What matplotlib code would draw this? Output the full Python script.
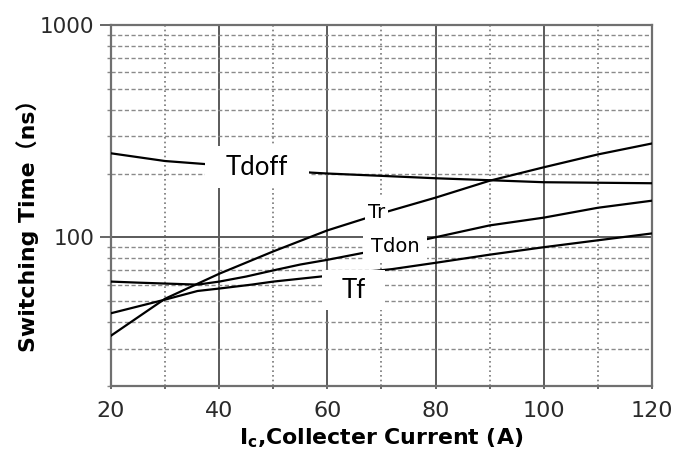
"""
Switching time versus collector current for the IGBT (log scale).
"""

import matplotlib
matplotlib.use('Agg')
import matplotlib.pyplot as plt
from matplotlib.ticker import FixedLocator, NullFormatter, FixedFormatter

# Collector current (A) and switching times (ns) per curve
tdoff_ic = [20, 30, 38, 57, 60, 70, 80, 90, 100, 110, 120]
tdoff_ns = [249, 229, 221, 202, 200, 195, 190, 186, 182, 181, 180]

tr_ic = [20, 30, 40, 50, 60, 70, 80, 90, 100, 110, 120]
tr_ns = [34.5, 51.5, 67.5, 86, 108, 130, 154, 185, 214, 246, 277]

tdon_ic = [20, 25, 30, 36, 40, 45, 50, 55, 60, 67, 79, 90, 100, 110, 120]
tdon_ns = [62, 61.3, 60.7, 60, 62, 65.5, 70, 74.6, 78.5, 85, 99, 114, 124,
           138, 149]

tf_ic = [20, 30, 36, 40, 46, 50, 60, 72, 80, 90, 100, 110, 120]
tf_ns = [44, 51, 56, 57.5, 60, 62, 66, 71, 76, 83, 90, 97, 104.5]

# Curve labels: text, current, time at baseline
label_text = ['Tdoff', 'Tr', 'Tdon', 'Tf']
label_ic = [47.0, 69.1, 72.5, 64.8]
label_ns = [197.7, 122.9, 85.9, 52.1]

x_major = [20, 40, 60, 80, 100, 120]
x_minor = [30, 50, 70, 90, 110]
y_major = [100, 1000]
y_minor = [20, 30, 40, 50, 60, 70, 80, 90,
           200, 300, 400, 500, 600, 700, 800, 900]


def main():
    plt.rcParams['font.family'] = ['DejaVu Sans', 'Noto Sans CJK SC']
    fig = plt.figure(figsize=(6.83, 4.54), dpi=100)
    ax = fig.add_axes([0.1625, 0.1498, 0.7921, 0.7951])
    ax.set_yscale('log')
    ax.set_xlim(20, 120)
    ax.set_ylim(20, 1000)

    # Ticks
    ax.xaxis.set_major_locator(FixedLocator(x_major))
    ax.xaxis.set_minor_locator(FixedLocator(x_minor))
    ax.yaxis.set_major_locator(FixedLocator(y_major))
    ax.yaxis.set_major_formatter(FixedFormatter([str(v) for v in y_major]))
    ax.yaxis.set_minor_locator(FixedLocator(y_minor))
    ax.yaxis.set_minor_formatter(NullFormatter())
    ax.tick_params(axis='y', which='major', length=8, width=1.3,
                   color='#5a5a5a', pad=4, labelsize=15.5,
                   labelcolor='#2a2a2a')
    ax.tick_params(axis='y', which='minor', length=3, width=1,
                   color='#888888')
    ax.tick_params(axis='x', which='both', length=2, width=1.3,
                   color='#5a5a5a', pad=9, labelsize=16,
                   labelcolor='#2a2a2a')

    # Grid: solid majors, dashed / dotted minors
    ax.set_axisbelow(True)
    ax.grid(which='major', axis='both', color='#5a5a5a', lw=1.4, ls='-')
    ax.grid(which='minor', axis='y', color='#8a8a8a', lw=1.0,
            ls=(0, (3, 1.8)))
    ax.grid(which='minor', axis='x', color='#777777', lw=1.2,
            ls=(0, (1, 1.8)))
    for spine in ax.spines.values():
        spine.set_color('#707070')
        spine.set_linewidth(1.6)

    # Curves
    for ic, ns in [(tdoff_ic, tdoff_ns), (tr_ic, tr_ns),
                   (tdon_ic, tdon_ns), (tf_ic, tf_ns)]:
        ax.plot(ic, ns, color='black', lw=1.6, zorder=3)

    # Curve labels on white boxes (pad sets the width, aspect the height)
    label_font = ['Lato', 'DejaVu Sans', 'DejaVu Sans', 'Lato']
    label_size = [18.5, 14, 14, 18.5]
    label_pad = [0.8, 0.13, 0.38, 0.75]
    label_aspect = [0.4, 3.4, 0.75, 0.4]
    for txt, x, y, fam, size, pad, asp in zip(
            label_text, label_ic, label_ns, label_font, label_size,
            label_pad, label_aspect):
        ax.text(x, y, txt, ha='center', va='baseline', family=fam,
                fontsize=size, color='black', zorder=5,
                bbox=dict(boxstyle=f'square,pad={pad}', fc='white',
                          ec='none', mutation_aspect=asp))

    ax.set_xlabel(r'I$_\mathregular{c}$,Collecter Current (A)',
                  fontsize=15.8, fontweight='bold', va='baseline')
    ax.xaxis.set_label_coords(0.5, -0.163)
    ax.set_ylabel('Switching Time（ns）', fontsize=15.8, fontweight='bold',
                  va='center')
    ax.yaxis.set_label_coords(-0.155, 0.46)

    fig.savefig('out.png', dpi=100)
    plt.close(fig)


if __name__ == '__main__':
    main()
